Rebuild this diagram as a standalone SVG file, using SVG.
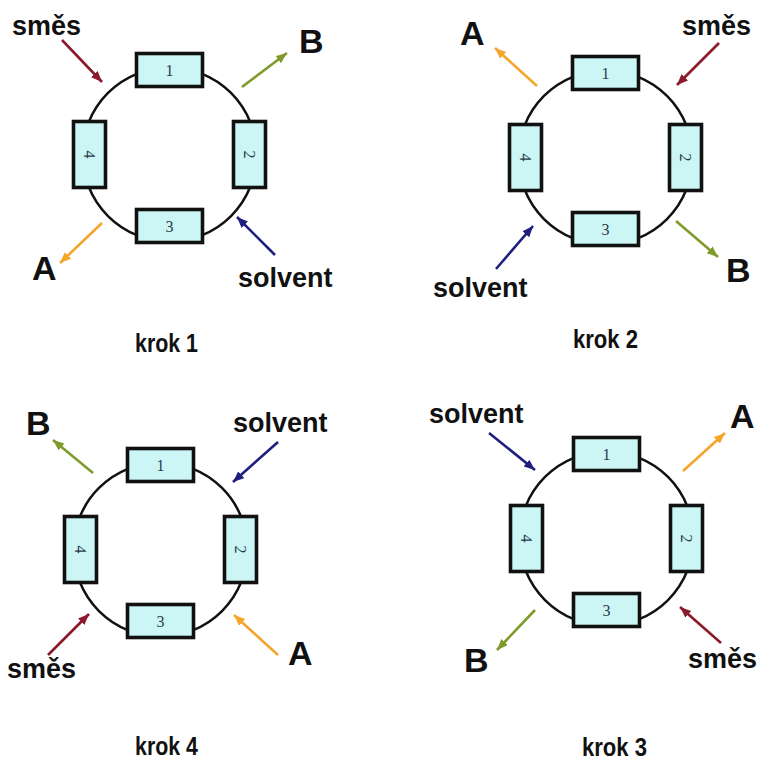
<svg xmlns="http://www.w3.org/2000/svg" width="760" height="763" viewBox="0 0 760 763">
<style>
.ring{fill:none;stroke:#111;stroke-width:2.5}
.box{fill:#CCF6F6;stroke:#111;stroke-width:3.6}
.num{font-family:"Liberation Serif",serif;font-size:16px;fill:#2A3A4A;text-anchor:middle}
.lbl{font-family:"Liberation Sans",Arial,sans-serif;font-weight:bold;font-size:27px;fill:#111}
.big{font-family:"Liberation Sans",Arial,sans-serif;font-weight:bold;font-size:34px;fill:#111}
.step{font-family:"Liberation Sans",Arial,sans-serif;font-weight:bold;font-size:25px;fill:#111}
.a{stroke-width:2.6;fill:none}
.red{stroke:#8B1A2A}.olv{stroke:#7F9B2B}.org{stroke:#F5A52A}.nvy{stroke:#1F1F80}
</style>
<defs>
<marker id="mr" markerUnits="userSpaceOnUse" markerWidth="12" markerHeight="10" refX="11" refY="4.5" orient="auto"><path d="M0,0 L11,4.5 L0,9 z" fill="#8B1A2A"/></marker>
<marker id="mo" markerUnits="userSpaceOnUse" markerWidth="12" markerHeight="10" refX="11" refY="4.5" orient="auto"><path d="M0,0 L11,4.5 L0,9 z" fill="#7F9B2B"/></marker>
<marker id="mg" markerUnits="userSpaceOnUse" markerWidth="12" markerHeight="10" refX="11" refY="4.5" orient="auto"><path d="M0,0 L11,4.5 L0,9 z" fill="#F5A52A"/></marker>
<marker id="mn" markerUnits="userSpaceOnUse" markerWidth="12" markerHeight="10" refX="11" refY="4.5" orient="auto"><path d="M0,0 L11,4.5 L0,9 z" fill="#1F1F80"/></marker>
<g id="column">
<circle class="ring" cx="169.5" cy="154.5" r="87"/>
<g><rect class="box" x="136.5" y="53.5" width="66" height="33"/><text class="num" x="169.5" y="75.5">1</text></g>
<g><rect class="box" x="233.5" y="121.5" width="32" height="66"/><text class="num" transform="translate(249.5,154.5) rotate(90)" y="5.5">2</text></g>
<g><rect class="box" x="136.5" y="209.5" width="66" height="33"/><text class="num" x="169.5" y="231.5">3</text></g>
<g><rect class="box" x="73.5" y="121.5" width="32" height="66"/><text class="num" transform="translate(89.5,154.5) rotate(90)" y="5.5">4</text></g>
</g>
</defs>

<g id="step1">
<use href="#column"/>
</g>
<g id="step2">
<use href="#column" transform="translate(436,3)"/>
</g>
<g id="step4">
<use href="#column" transform="translate(-9,395)"/>
</g>
<g id="step3">
<use href="#column" transform="translate(437,384)"/>
</g>

<g id="connectors">
<line class="a red" x1="62" y1="40" x2="102" y2="82" marker-end="url(#mr)"/>
<line class="a olv" x1="242" y1="87" x2="287" y2="53" marker-end="url(#mo)"/>
<line class="a org" x1="102" y1="223" x2="60" y2="263" marker-end="url(#mg)"/>
<line class="a nvy" x1="275" y1="255" x2="237" y2="217" marker-end="url(#mn)"/>

<line class="a org" x1="537" y1="86" x2="495" y2="48" marker-end="url(#mg)"/>
<line class="a red" x1="719" y1="43" x2="677" y2="85" marker-end="url(#mr)"/>
<line class="a olv" x1="676" y1="221" x2="718" y2="257" marker-end="url(#mo)"/>
<line class="a nvy" x1="496" y1="269" x2="533" y2="226" marker-end="url(#mn)"/>

<line class="a olv" x1="93" y1="473" x2="53" y2="440" marker-end="url(#mo)"/>
<line class="a nvy" x1="278" y1="442" x2="233" y2="482" marker-end="url(#mn)"/>
<line class="a red" x1="48" y1="655" x2="89" y2="614" marker-end="url(#mr)"/>
<line class="a org" x1="278" y1="655" x2="234" y2="615" marker-end="url(#mg)"/>

<line class="a nvy" x1="489" y1="433" x2="535" y2="470" marker-end="url(#mn)"/>
<line class="a org" x1="683" y1="471" x2="725" y2="433" marker-end="url(#mg)"/>
<line class="a olv" x1="535" y1="610" x2="497" y2="650" marker-end="url(#mo)"/>
<line class="a red" x1="721" y1="643" x2="680" y2="607" marker-end="url(#mr)"/>
</g>

<g id="labels">
<text class="lbl" x="12" y="35">směs</text>
<text class="big" x="299" y="53">B</text>
<text class="big" x="32" y="280">A</text>
<text class="lbl" x="238" y="287">solvent</text>
<text class="step" x="135" y="352" textLength="63" lengthAdjust="spacingAndGlyphs">krok 1</text>

<text class="big" x="460" y="45">A</text>
<text class="lbl" x="682" y="35">směs</text>
<text class="big" x="726" y="282">B</text>
<text class="lbl" x="433" y="297">solvent</text>
<text class="step" x="573" y="348" textLength="65" lengthAdjust="spacingAndGlyphs">krok 2</text>

<text class="big" x="26" y="435">B</text>
<text class="lbl" x="233" y="432">solvent</text>
<text class="lbl" x="7" y="678">směs</text>
<text class="big" x="288" y="665">A</text>
<text class="step" x="135" y="755" textLength="63" lengthAdjust="spacingAndGlyphs">krok 4</text>

<text class="lbl" x="429" y="423">solvent</text>
<text class="big" x="730" y="428">A</text>
<text class="big" x="464" y="672">B</text>
<text class="lbl" x="688" y="668">směs</text>
<text class="step" x="582" y="756" textLength="65" lengthAdjust="spacingAndGlyphs">krok 3</text>
</g>
</svg>
